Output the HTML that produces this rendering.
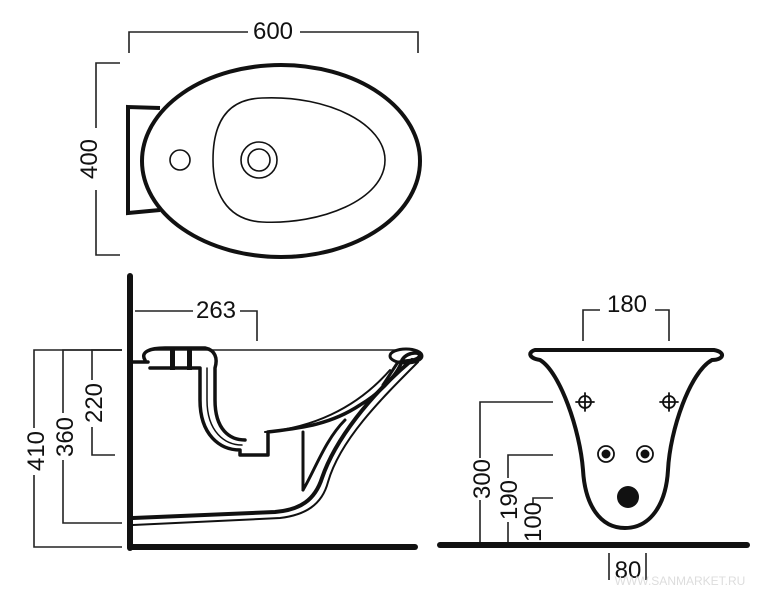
<!DOCTYPE html>
<html><head><style>
html,body{margin:0;padding:0;background:#fff;}
svg{display:block;}
text{font-family:"Liberation Sans",sans-serif;font-size:24px;fill:#111;}
</style></head><body>
<svg width="769" height="597" viewBox="0 0 769 597" xmlns="http://www.w3.org/2000/svg">
<g fill="none" stroke="#222" stroke-width="1.6">
<polyline points="129,53 129,32 248,32"/><polyline points="300,32 418,32 418,53"/>
<polyline points="120,63 96,63 96,128"/><polyline points="96,190 96,255 120,255"/>
<polyline points="135,311 193,311"/><polyline points="240,311 257,311 257,341"/>
<polyline points="122,350 34,350 34,428"/><polyline points="34,475 34,547 122,547"/>
<polyline points="122,350 63,350 63,413"/><polyline points="63,460 63,523 122,523"/>
<polyline points="122,350 92,350 92,380"/><polyline points="92,427 92,455 115,455"/>
<line x1="150" y1="350" x2="400" y2="350"/>
<polyline points="583,341 583,310 600,310"/><polyline points="655,310 669,310 669,341"/>
<polyline points="553,402 480,402 480,458"/><line x1="480" y1="500" x2="480" y2="545"/>
<polyline points="553,455 508,455 508,478"/><line x1="508" y1="522" x2="508" y2="545"/>
<polyline points="553,498 533,498 533,503"/>
<line x1="609" y1="553" x2="609" y2="580"/><line x1="646" y1="553" x2="646" y2="580"/>
</g>
<g fill="none" stroke="#111">
<path d="M160,108 L128,107 L128,213 L160,210" stroke-width="4"/>
<ellipse cx="281" cy="161" rx="139" ry="96" fill="#fff" stroke-width="4"/>
<path d="M262,98 C330,95 385,125 385,160 C385,200 320,225 262,222 C225,220 213,190 213,160 C213,125 225,99 262,98 Z" stroke-width="1.6"/>
<circle cx="259" cy="160" r="18" stroke-width="1.6"/><circle cx="259" cy="160" r="11" stroke-width="1.6"/>
<circle cx="180" cy="160" r="10" stroke-width="1.6"/>
</g>
<g fill="none" stroke="#111" stroke-linecap="round" stroke-linejoin="round">
<line x1="130" y1="276" x2="130" y2="548" stroke-width="6"/>
<line x1="130" y1="547" x2="415" y2="547" stroke-width="6"/>
<path d="M133,518 L275,512 C300,510 315,500 322,478 C335,440 370,395 412,360" stroke-width="4"/>
<path d="M133,525 L280,518 C305,515 322,505 328,482 C340,440 380,400 418,362" stroke-width="2"/>
<path d="M133,362 L148,362 M145,360 C140,352 150,348 165,348 L205,348 C215,350 218,358 215,368 L215,400 C215,430 230,440 245,440" stroke-width="3.5"/>
<path d="M150,368 L200,368 L200,400 C200,435 220,450 240,450 L240,455 L268,455 L268,432 C300,428 330,425 360,405 C385,390 400,370 402,360 C408,350 425,352 418,358 C412,362 405,360 400,362" stroke-width="3.5"/>
<path d="M207,368 L207,400 C207,432 225,445 242,445" stroke-width="1.5"/>
<path d="M265,432 C310,428 355,410 390,370" stroke-width="2"/>
<line x1="303" y1="432" x2="303" y2="490" stroke-width="3"/>
<path d="M303,490 C315,470 325,440 345,420" stroke-width="3"/>
<ellipse cx="406" cy="356" rx="16" ry="7" stroke-width="3"/>
<path d="M398,362 L383,385" stroke-width="3"/>
<rect x="170" y="347" width="5" height="23" fill="#111" stroke="none"/>
<rect x="187" y="347" width="5" height="23" fill="#111" stroke="none"/>
</g>
<g fill="none" stroke="#111" stroke-linecap="round">
<line x1="440" y1="545" x2="747" y2="545" stroke-width="6"/>
<path d="M535,350 L714,350 C726,352 724,360 712,360 C690,372 670,430 668,470 C666,505 650,528 625,528 C600,528 585,505 583,470 C580,430 560,372 540,360 C528,358 528,352 535,350 Z" stroke-width="4"/>
<circle cx="585" cy="402" r="6" stroke-width="1.8"/><path d="M576,402 H594 M585,393 V411" stroke-width="1.8"/>
<circle cx="669" cy="402" r="6" stroke-width="1.8"/><path d="M660,402 H678 M669,393 V411" stroke-width="1.8"/>
<circle cx="606" cy="454" r="8" stroke-width="1.8"/><circle cx="606" cy="454" r="4" fill="#111"/>
<circle cx="645" cy="454" r="8" stroke-width="1.8"/><circle cx="645" cy="454" r="4" fill="#111"/>
<circle cx="628" cy="497" r="11" fill="#111" stroke="none"/>
</g>
<text x="273" y="39" text-anchor="middle">600</text>
<text transform="translate(97,159) rotate(-90)" text-anchor="middle">400</text>
<text x="216" y="318" text-anchor="middle">263</text>
<text transform="translate(44,451) rotate(-90)" text-anchor="middle">410</text>
<text transform="translate(73,437) rotate(-90)" text-anchor="middle">360</text>
<text transform="translate(102,403) rotate(-90)" text-anchor="middle">220</text>
<text x="627" y="312" text-anchor="middle">180</text>
<text transform="translate(490,479) rotate(-90)" text-anchor="middle">300</text>
<text transform="translate(517,500) rotate(-90)" text-anchor="middle">190</text>
<text transform="translate(541,522) rotate(-90)" text-anchor="middle">100</text>
<text x="628" y="578" text-anchor="middle">80</text>
<text x="680" y="585" text-anchor="middle" style="font-size:12px;fill:#ddd">WWW.SANMARKET.RU</text>
</svg>
</body></html>
